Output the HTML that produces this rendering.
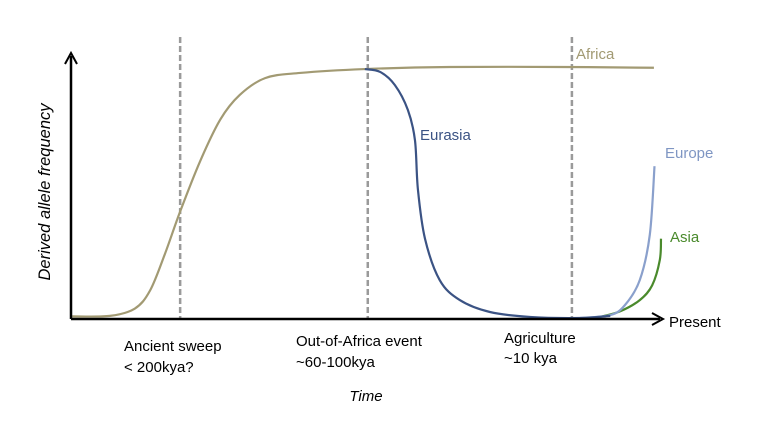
<!DOCTYPE html>
<html><head><meta charset="utf-8"><style>
html,body{margin:0;padding:0;background:#fff;}
svg{display:block;font-family:"Liberation Sans",sans-serif;}
</style></head><body>
<svg id="chart" width="760" height="434" viewBox="0 0 760 434">
  <g id="events"></g>
  <g id="series"></g>
  <line x1="71" y1="319" x2="71" y2="56" stroke="#000" stroke-width="2.5"/>
  <path d="M65,64 L71,53 L77,64" fill="none" stroke="#000" stroke-width="2"/>
  <line x1="71" y1="319" x2="660" y2="319" stroke="#000" stroke-width="2.5"/>
  <path d="M652,313 L663,319 L652,325" fill="none" stroke="#000" stroke-width="2"/>
  <text x="669" y="327" font-size="15">Present</text>
  <text transform="translate(50,192) rotate(-90)" text-anchor="middle" font-size="16.5" font-style="italic">Derived allele frequency</text>
  <text x="366" y="401" text-anchor="middle" font-size="15" font-style="italic">Time</text>
  <text x="124" y="351" font-size="15">Ancient sweep</text>
  <text x="124" y="372" font-size="15">&lt; 200kya?</text>
  <text x="296" y="346" font-size="15">Out-of-Africa event</text>
  <text x="296" y="367" font-size="15">~60-100kya</text>
  <text x="504" y="343" font-size="15">Agriculture</text>
  <text x="504" y="363" font-size="15">~10 kya</text>
  <text x="576" y="59" font-size="15" fill="#a29a73">Africa</text>
  <text x="420" y="140" font-size="15" fill="#3b5384">Eurasia</text>
  <text x="665" y="158" font-size="15" fill="#7f96c3">Europe</text>
  <text x="670" y="242" font-size="15" fill="#4a8a2c">Asia</text>
</svg>
<script>
const eventX = [18.5, 50.3, 84.9];
const africaX = [0.2,6.6,10.8,13.4,15.9,18.5,21.9,25.3,28.6,32.9,38.8,49.8,64.2,82.9,98.8];
const africaY = [0.01,0.012,0.04,0.11,0.25,0.415,0.61,0.77,0.865,0.93,0.95,0.965,0.973,0.973,0.97];
const eurasiaX = [49.8,52.4,54.9,57.1,58.3,58.8,60,62.5,65.9,71,77.8,86.3,91.4];
const eurasiaY = [0.965,0.954,0.903,0.807,0.69,0.5,0.31,0.15,0.073,0.027,0.008,0.004,0.012];
const europeX = [86.3,91.4,93.9,96.4,98.1,98.9];
const europeY = [0.004,0.015,0.054,0.15,0.325,0.59];
const asiaX = [89.7,93.1,96.4,98.5,99.8,100];
const asiaY = [0.008,0.03,0.073,0.13,0.228,0.31];

const xs = v => 71 + v * 5.9;
const ys = v => 319 - v * 259;
const NS = "http://www.w3.org/2000/svg";

function smooth(X, Y) {
  const p = X.map((x, i) => [xs(x), ys(Y[i])]);
  let d = "M" + p[0][0] + "," + p[0][1];
  for (let i = 0; i < p.length - 1; i++) {
    const p0 = p[i - 1] || p[i], p1 = p[i], p2 = p[i + 1], p3 = p[i + 2] || p2;
    const c1 = [p1[0] + (p2[0] - p0[0]) / 6, p1[1] + (p2[1] - p0[1]) / 6];
    const c2 = [p2[0] - (p3[0] - p1[0]) / 6, p2[1] - (p3[1] - p1[1]) / 6];
    d += " C" + c1 + " " + c2 + " " + p2;
  }
  return d;
}

const ev = document.getElementById("events");
eventX.forEach(v => {
  const l = document.createElementNS(NS, "line");
  l.setAttribute("x1", xs(v)); l.setAttribute("x2", xs(v));
  l.setAttribute("y1", 37); l.setAttribute("y2", 318);
  l.setAttribute("stroke", "#9a9a9a"); l.setAttribute("stroke-width", "2.5");
  l.setAttribute("stroke-dasharray", "6,3");
  
  
  ev.appendChild(l);
});

const sg = document.getElementById("series");
function addLine(X, Y, color, name) {
  const p = document.createElementNS(NS, "path");
  p.setAttribute("d", smooth(X, Y));
  p.setAttribute("fill", "none");
  p.setAttribute("stroke", color);
  p.setAttribute("stroke-width", "2.2");
  
  
  sg.appendChild(p);
}
addLine(africaX, africaY, "#a29a73", "africa-line");
addLine(asiaX, asiaY, "#4a8a2c", "asia-line");
addLine(europeX, europeY, "#8aa0cc", "europe-line");
addLine(eurasiaX, eurasiaY, "#3b5384", "eurasia-line");
</script>
</body></html>
